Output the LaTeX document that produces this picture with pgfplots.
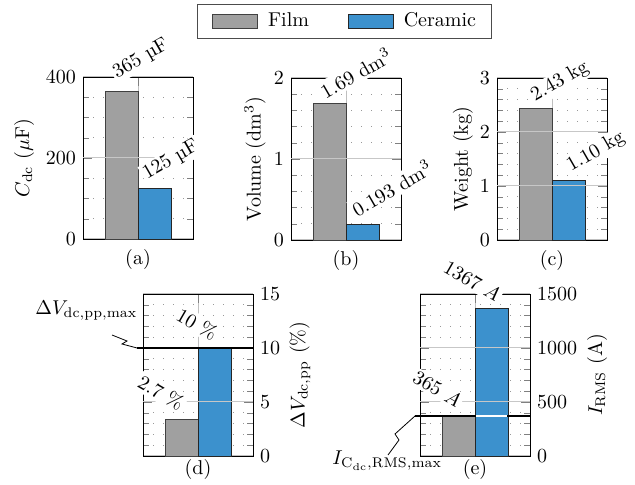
\documentclass[border=0pt]{standalone}
\usepackage{fontspec}
\usepackage{pgfplots}
\pgfplotsset{compat=1.18}
\definecolor{filmgray}{RGB}{160,160,160}
\definecolor{ceramic}{RGB}{60,145,205}
\tikzset{lbl/.style={fill=white, inner sep=1pt}, gl/.style={black!22, line width=0.5pt}}
\pgfplotsset{
  sub/.style={
    width=55pt, height=81pt, scale only axis, anchor=south west,
    xmin=-1.667, xmax=1.667, xtick={0}, xticklabels={},
    ymin=0,
    xmajorgrids, ymajorgrids, yminorgrids,
    major grid style={black!25, line width=0.5pt},
    minor grid style={gray!80, line width=0.5pt, dash pattern=on 0.7pt off 4.3pt},
    /pgf/number format/1000 sep={},
    clip=false,
  },
  toprow/.style={xlabel style={at={(axis description cs:0.5,-0.125)}, anchor=center}},
  botrow/.style={xlabel style={at={(axis description cs:0.5,-0.085)}, anchor=center}},
  barleg/.style={legend image code/.code={\path (0pt,0pt); \draw[##1] (5pt,-3.5pt) rectangle (27.5pt,3.5pt);}},
  film/.style={ybar, bar width=1, bar shift=0pt, fill=filmgray, draw=black!75, forget plot},
  cer/.style={ybar, bar width=1, bar shift=0pt, fill=ceramic, draw=black!85, forget plot},
}
\begin{document}
\begin{tikzpicture}
\useasboundingbox (0,0) rectangle (317.5pt,242.5pt);
% (a)
\begin{axis}[sub, toprow, at={(41.5pt,123pt)}, ymax=400, ytick={0,200,400}, minor y tick num=3,
  ylabel={$C_{\mathrm{dc}}$ $(\mu\mathrm{F})$},
  ylabel style={at={(axis description cs:-0.536,0.5)}, anchor=center},
  xlabel={(a)},
  legend columns=2,
  legend style={at={(1.036,1.453)}, anchor=north west, draw=black!70,
    inner xsep=2.5pt, inner ysep=1.25pt, nodes={inner xsep=5pt, inner ysep=3pt},
    /tikz/every even column/.append style={column sep=9.5pt}},
]
\addlegendimage{barleg, fill=filmgray, draw=black!75}
\addlegendentry{Film}
\addlegendimage{barleg, fill=ceramic, draw=black!85}
\addlegendentry{Ceramic}
\addplot[film] coordinates {(-0.5,365)};
\addplot[cer] coordinates {(0.5,125)};
\draw[gl] (axis cs:-1.667,200) -- (axis cs:1.667,200);
\node[lbl, rotate=30] at (axis cs:0.09,445) {365 µF};
\node[lbl, rotate=30] at (axis cs:1.0,194) {125 µF};
\end{axis}
% (b)
\begin{axis}[sub, toprow, at={(145.5pt,122.5pt)}, ymax=2, ytick={0,1,2}, minor y tick num=4,
  ylabel={Volume (dm$^3$)},
  ylabel style={at={(axis description cs:-0.327,0.5)}, anchor=center},
  xlabel={(b)},
]
\addplot[film] coordinates {(-0.5,1.69)};
\addplot[cer] coordinates {(0.5,0.193)};
\draw[gl] (axis cs:-1.667,1) -- (axis cs:1.667,1);
\node[lbl, rotate=30] at (axis cs:0.30,2.06) {1.69 dm$^3$};
\node[lbl, rotate=30] at (axis cs:1.39,0.64) {0.193 dm$^3$};
\end{axis}
% (c)
\begin{axis}[sub, toprow, at={(248.5pt,122.5pt)}, ymax=3, ytick={0,1,2,3}, minor y tick num=4,
  ylabel={Weight (kg)},
  ylabel style={at={(axis description cs:-0.31,0.5)}, anchor=center},
  xlabel={(c)},
]
\addplot[film] coordinates {(-0.5,2.43)};
\addplot[cer] coordinates {(0.5,1.10)};
\draw[gl] (axis cs:-1.667,1) -- (axis cs:1.667,1);
\draw[gl] (axis cs:-1.667,2) -- (axis cs:1.667,2);
\node[lbl, rotate=30] at (axis cs:0.24,2.93) {2.43 kg};
\node[lbl, rotate=30] at (axis cs:1.33,1.63) {1.10 kg};
\end{axis}
% (d)
\begin{axis}[sub, botrow, at={(71.5pt,14.5pt)}, ymax=15, ytick={0,5,10,15}, minor y tick num=4,
  yticklabel pos=right,
  ylabel={$\Delta V_{\mathrm{dc,pp}}$ (\%)},
  ylabel style={at={(axis description cs:1.427,0.5)}, anchor=center},
  xlabel={(d)},
]
\addplot[film] coordinates {(-0.5,3.4)};
\addplot[cer] coordinates {(0.5,10)};
\draw[gl] (axis cs:-1.667,5) -- (axis cs:1.667,5);
\draw[semithick] (axis cs:-1.85,10) -- (axis cs:1.667,10);
\node[lbl, rotate=-30] at (axis cs:-0.03,12.2) {10 \%};
\node[lbl, rotate=-30] at (axis cs:-1.12,5.83) {2.7 \%};
\end{axis}
% (e)
\begin{axis}[sub, botrow, at={(210pt,14.5pt)}, ymax=1500, ytick={0,500,1000,1500}, minor y tick num=4,
  yticklabel pos=right,
  ylabel={$I_{\mathrm{RMS}}$ (A)},
  ylabel style={at={(axis description cs:1.61,0.5)}, anchor=center},
  xlabel={(e)},
]
\addplot[film] coordinates {(-0.5,365)};
\addplot[cer] coordinates {(0.5,1367)};
\draw[gl] (axis cs:-1.667,500) -- (axis cs:1.667,500);
\draw[gl] (axis cs:-1.667,1000) -- (axis cs:1.667,1000);
\draw[semithick] (axis cs:-1.82,370) -- (axis cs:1.667,370);
\draw[white, semithick] (axis cs:0.03,370) -- (axis cs:0.97,370);
\node[lbl, rotate=-30] at (axis cs:-0.09,1620) {1367 $A$};
\node[lbl, rotate=-30] at (axis cs:-1.15,620) {365 $A$};
\end{axis}
% annotations (pixel coordinates)
\begin{scope}[shift={(0pt,242.5pt)}, x=0.5pt, y=-0.5pt]
\draw[thin] (112,335) -- (127,341) -- (122,344) -- (137,348);
\node[anchor=base west, inner sep=0pt] at (35,315) {$\Delta V_{\mathrm{dc,pp,max}}$};
\draw[thin] (388,455) -- (399,440) -- (395,434) -- (415,416);
\node[anchor=base west, inner sep=0pt] at (332,465) {$I_{\mathrm{C}_{\mathrm{dc}},\mathrm{RMS,max}}$};
\end{scope}
\end{tikzpicture}
\end{document}
